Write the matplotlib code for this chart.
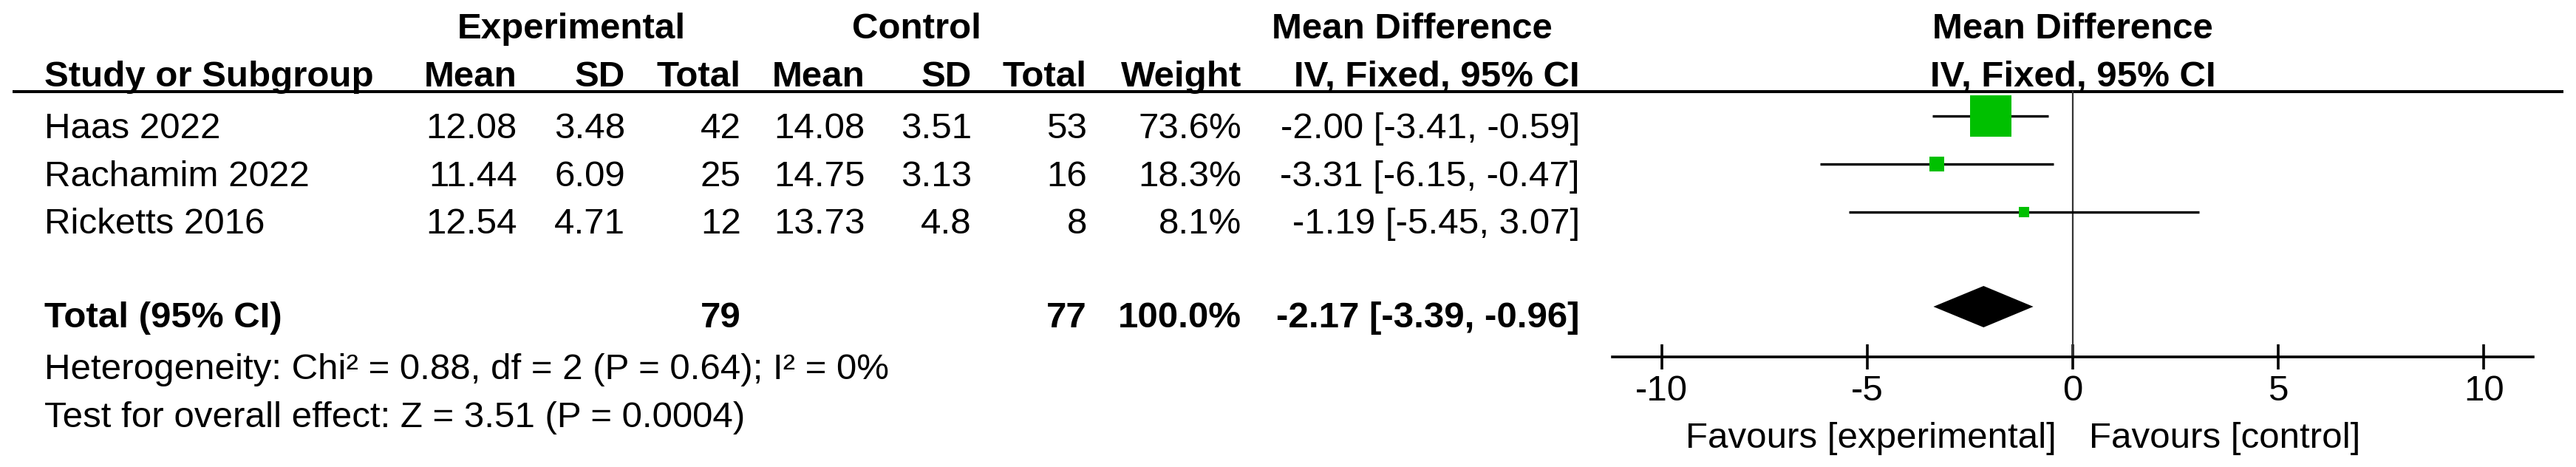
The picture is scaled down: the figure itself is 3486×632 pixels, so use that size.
import matplotlib
matplotlib.use("Agg")
import matplotlib.pyplot as plt

# ----- DATA -----
studies   = ["Haas 2022", "Rachamim 2022", "Ricketts 2016"]
exp_mean  = [12.08, 11.44, 12.54]
exp_sd    = [3.48, 6.09, 4.71]
exp_n     = [42, 25, 12]
ctl_mean  = [14.08, 14.75, 13.73]
ctl_sd    = [3.51, 3.13, 4.8]
ctl_n     = [53, 16, 8]
weights   = [73.6, 18.3, 8.1]
md        = [-2.00, -3.31, -1.19]
ci_lo     = [-3.41, -6.15, -5.45]
ci_hi     = [-0.59, -0.47, 3.07]

total_exp_n = 79
total_ctl_n = 77
total_weight = 100.0
total_md, total_lo, total_hi = -2.17, -3.39, -0.96

chi2, het_df, het_p, i2 = 0.88, 2, 0.64, 0
z_val, z_p = 3.51, 0.0004

ticks = [-10, -5, 0, 5, 10]
fav_left, fav_right = "Favours [experimental]", "Favours [control]"

# ----- LAYOUT (pixels) -----
W, H = 3486, 632
FS = 35.5
plt.rcParams['font.family'] = ['Liberation Sans', 'DejaVu Sans']

row_base = [187, 252, 316]     # text baselines
row_mark = [157, 222, 287]     # marker centres
total_base, total_mark = 443, 415
axis_y = 483

fig = plt.figure(figsize=(W / 100, H / 100), dpi=100)
ax = fig.add_axes([0, 0, 1, 1])
ax.set_xlim(0, W)
ax.set_ylim(H, 0)
ax.axis("off")

def t(x, y, s, ha="left", bold=False):
    ax.text(x, y, s, ha=ha, va="baseline", fontsize=FS,
            fontweight="bold" if bold else "normal", color="black")

# group headers
t(773, 52, "Experimental", "center", True)
t(1240, 52, "Control", "center", True)
t(1911, 52, "Mean Difference", "center", True)

# column headers
cols = [(60, "Study or Subgroup", "left"), (700, "Mean", "right"), (846, "SD", "right"),
        (1003, "Total", "right"), (1171, "Mean", "right"), (1315, "SD", "right"),
        (1471, "Total", "right"), (1680, "Weight", "right"), (2138, "IV, Fixed, 95% CI", "right")]
for x, s, ha in cols:
    t(x, 117, s, ha, True)

ax.plot([17, 3469], [124, 124], color="black", lw=2.9, solid_capstyle="butt")

# study rows
for i, name in enumerate(studies):
    y = row_base[i]
    t(60, y, name)
    t(700, y, f"{exp_mean[i]:g}", "right")
    t(846, y, f"{exp_sd[i]:g}", "right")
    t(1003, y, f"{exp_n[i]}", "right")
    t(1171, y, f"{ctl_mean[i]:g}", "right")
    t(1315, y, f"{ctl_sd[i]:g}", "right")
    t(1471, y, f"{ctl_n[i]}", "right")
    t(1680, y, f"{weights[i]:.1f}%", "right")
    t(2138, y, f"{md[i]:.2f} [{ci_lo[i]:.2f}, {ci_hi[i]:.2f}]", "right")

# total row
t(60, total_base, "Total (95% CI)", bold=True)
t(1003, total_base, f"{total_exp_n}", "right", True)
t(1471, total_base, f"{total_ctl_n}", "right", True)
t(1680, total_base, f"{total_weight:.1f}%", "right", True)
t(2138, total_base, f"{total_md:.2f} [{total_lo:.2f}, {total_hi:.2f}]", "right", True)

t(60, 513, f"Heterogeneity: Chi\u00b2 = {chi2:.2f}, df = {het_df} (P = {het_p:.2f}); I\u00b2 = {i2}%")
t(60, 578, f"Test for overall effect: Z = {z_val:.2f} (P = {z_p:g})")

# ----- FOREST PANEL -----
x0, x1 = 2182, 3428
fx = fig.add_axes([x0 / W, 0, (x1 - x0) / W, 1])
fx.patch.set_visible(False)
fx.set_xlim(-11.2, 11.2)
fx.set_ylim(H, 0)
for side in ("left", "right", "top"):
    fx.spines[side].set_visible(False)
fx.spines["bottom"].set_position(("data", axis_y))
fx.spines["bottom"].set_linewidth(2.6)
fx.set_yticks([])
fx.set_xticks(ticks)
fx.set_xticklabels([str(v) for v in ticks], fontsize=FS)
fx.tick_params(axis="x", direction="inout", length=24.5, width=2.6, pad=5)

fx.text(0, 52, "Mean Difference", ha="center", va="baseline", fontsize=FS, fontweight="bold")
fx.text(0, 117, "IV, Fixed, 95% CI", ha="center", va="baseline", fontsize=FS, fontweight="bold")

# zero line
fx.plot([0, 0], [124, axis_y], color="#333333", lw=1.6)

# study CIs and boxes
for i in range(len(studies)):
    fx.plot([ci_lo[i], ci_hi[i]], [row_mark[i], row_mark[i]], color="black", lw=2.4,
            solid_capstyle="butt")
    side = 8 + 0.66 * weights[i]
    fx.scatter([md[i]], [row_mark[i]], marker="s", s=(side * 0.72) ** 2,
               color="#00c000", linewidths=0, zorder=3)

# pooled diamond
fx.fill([total_lo, total_md, total_hi, total_md],
        [total_mark, total_mark - 28, total_mark, total_mark + 28],
        color="black", lw=0, zorder=3)

fx.text(-0.4, 606, fav_left, ha="right", va="baseline", fontsize=FS)
fx.text(0.4, 606, fav_right, ha="left", va="baseline", fontsize=FS)

fig.savefig("out.png", dpi=100)
